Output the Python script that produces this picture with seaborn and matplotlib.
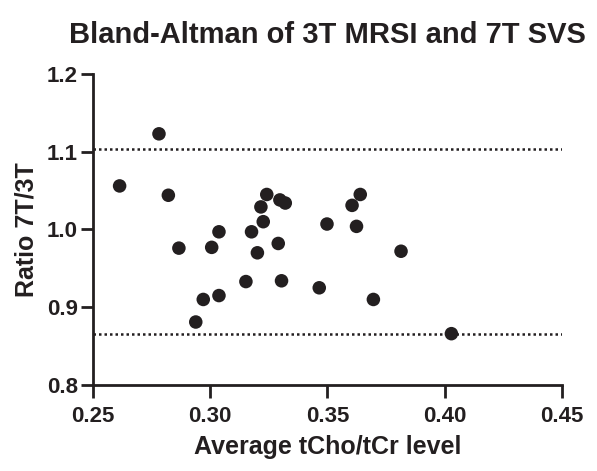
import numpy as np
import pandas as pd
import matplotlib
matplotlib.use("Agg")
import matplotlib.pyplot as plt
import seaborn as sns

# values
avg_level = [0.2613, 0.2781, 0.2821, 0.2866, 0.2938, 0.2970, 0.3006, 0.3037,
             0.3037, 0.3152, 0.3176, 0.3201, 0.3226, 0.3216, 0.3241, 0.3297,
             0.3320, 0.3290, 0.3304, 0.3465, 0.3498, 0.3640, 0.3605, 0.3624,
             0.3814, 0.3696, 0.4029]
ratio_7t_3t = [1.056, 1.123, 1.044, 0.976, 0.881, 0.910, 0.977, 0.997,
               0.915, 0.933, 0.997, 0.970, 1.010, 1.029, 1.045, 1.038,
               1.034, 0.982, 0.934, 0.925, 1.007, 1.045, 1.031, 1.004,
               0.972, 0.910, 0.866]
upper_loa = 1.104
lower_loa = 0.865

df = pd.DataFrame({'avg': avg_level, 'ratio': ratio_7t_3t})

sns.set_theme(style="ticks")
plt.rcParams['font.family'] = ['Liberation Sans', 'DejaVu Sans']
plt.rcParams['font.weight'] = 'bold'

fig, ax = plt.subplots(figsize=(5.97, 4.71), dpi=100)
fig.subplots_adjust(left=0.156, right=0.941, top=0.843, bottom=0.1826)

sns.scatterplot(data=df, x='avg', y='ratio', s=95, color='#231f20',
                edgecolor='none', ax=ax, zorder=3)

ax.axhline(upper_loa, color='#231f20', linestyle=(0, (1, 1.2)), linewidth=1.8, zorder=2)
ax.axhline(lower_loa, color='#231f20', linestyle=(0, (1, 1.2)), linewidth=1.8, zorder=2)

ax.set_xlim(0.25, 0.45)
ax.set_ylim(0.8, 1.2)
ax.set_xticks([0.25, 0.30, 0.35, 0.40, 0.45])
ax.set_xticklabels(['0.25', '0.30', '0.35', '0.40', '0.45'])
ax.set_yticks([0.8, 0.9, 1.0, 1.1, 1.2])
ax.set_yticklabels(['0.8', '0.9', '1.0', '1.1', '1.2'])

sns.despine(ax=ax)
for side in ['left', 'bottom']:
    ax.spines[side].set_linewidth(2)
    ax.spines[side].set_color('#231f20')
ax.tick_params(axis='both', width=2, length=9, color='#231f20',
               labelsize=16, labelcolor='#231f20')
ax.tick_params(axis='x', pad=6)
ax.tick_params(axis='y', pad=2)
for lab in ax.get_xticklabels() + ax.get_yticklabels():
    lab.set_fontweight('bold')

ax.set_xlabel('Average tCho/tCr level', fontsize=18, fontweight='bold', color='#231f20', labelpad=6)
ax.set_ylabel('Ratio 7T/3T', fontsize=18, fontweight='bold', color='#231f20', labelpad=6)
ax.set_title('Bland-Altman of 3T MRSI and 7T SVS', fontsize=21, fontweight='bold',
             color='#231f20', pad=22)

plt.savefig('out.png', dpi=100)
